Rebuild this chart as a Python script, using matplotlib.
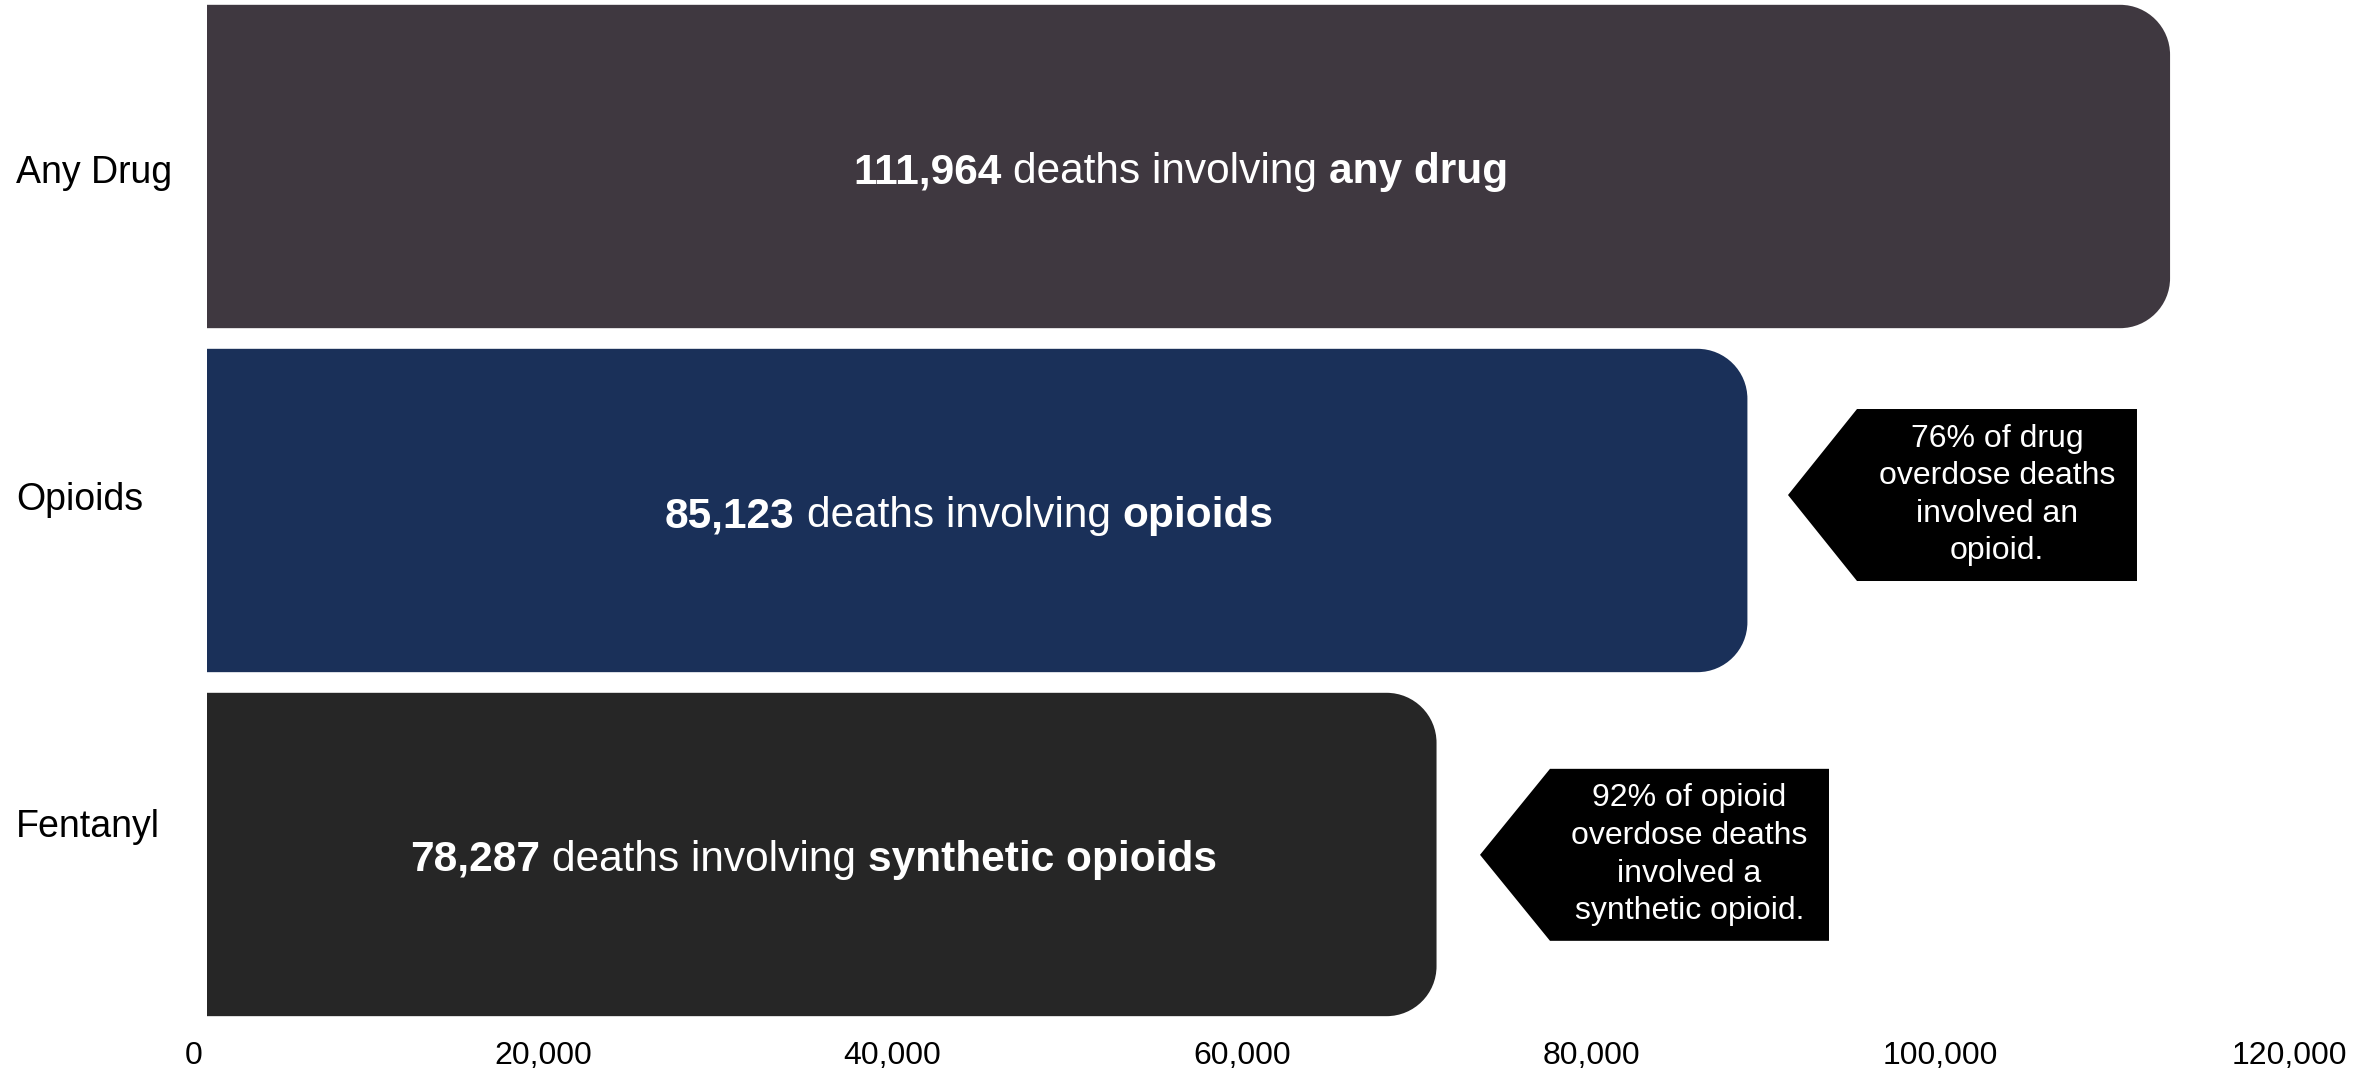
import matplotlib
matplotlib.use('Agg')
import matplotlib.pyplot as plt
from matplotlib.path import Path
from matplotlib.patches import PathPatch, Polygon
from matplotlib.transforms import ScaledTranslation, blended_transform_factory

# ---- data ----
categories = ['Any Drug', 'Opioids', 'Fentanyl']
bar_values = [112400, 88200, 70400]
label_counts = ['111,964', '85,123', '78,287']
label_middle = 'deaths involving'
label_subjects = ['any drug', 'opioids', 'synthetic opioids']
bar_colors = ['#3f3840', '#1a3059', '#262626']
x_ticks = [0, 20000, 40000, 60000, 80000, 100000, 120000]
x_tick_labels = ['0', '20,000', '40,000', '60,000', '80,000', '100,000', '120,000']
callout_texts = ['76% of drug\noverdose deaths\ninvolved an\nopioid.',
                 '92% of opioid\noverdose deaths\ninvolved a\nsynthetic opioid.']

# ---- layout ----
W, H, DPI = 2376, 1076, 100
FONT = ['Liberation Sans', 'DejaVu Sans']
plt.rcParams['font.family'] = FONT

fig = plt.figure(figsize=(W / DPI, H / DPI), dpi=DPI)
ax = fig.add_axes([207 / W, (H - 1027) / H, 2095.8 / W, 1027 / H])
ax.set_xlim(0, 120000)
ax.set_ylim(2.5015, -0.484)
for s in ax.spines.values():
    s.set_visible(False)

ypos = list(range(len(categories)))
bars = ax.barh(ypos, bar_values, height=0.94, color=bar_colors)

# rounded right corners
px_per_x = ax.transData.transform((1, 0))[0] - ax.transData.transform((0, 0))[0]
px_per_y = abs(ax.transData.transform((0, 1))[1] - ax.transData.transform((0, 0))[1])
radius_px = 50
k = 0.5523
for rect, col in zip(bars.patches, bar_colors):
    x0, y0 = rect.get_x(), rect.get_y()
    w, h = rect.get_width(), rect.get_height()
    x1, y1 = x0 + w, y0 + h
    rx, ry = radius_px / px_per_x, radius_px / px_per_y
    verts = [(x0, y0), (x1 - rx, y0),
             (x1 - rx + k * rx, y0), (x1, y0 + ry - k * ry), (x1, y0 + ry),
             (x1, y1 - ry),
             (x1, y1 - ry + k * ry), (x1 - rx + k * rx, y1), (x1 - rx, y1),
             (x0, y1), (x0, y0)]
    codes = [Path.MOVETO, Path.LINETO,
             Path.CURVE4, Path.CURVE4, Path.CURVE4,
             Path.LINETO,
             Path.CURVE4, Path.CURVE4, Path.CURVE4,
             Path.LINETO, Path.CLOSEPOLY]
    ax.add_patch(PathPatch(Path(verts, codes), facecolor=col, edgecolor='none', zorder=2))
    rect.remove()

# bar labels with mixed weights, centred in each bar
renderer = fig.canvas.get_renderer()
fs_bar = 30.5
gap_px = 0.278 * fs_bar * DPI / 72
shift_px = -8
for i, (v, cnt, subj) in enumerate(zip(bar_values, label_counts, label_subjects)):
    yb = i + 0.048
    pieces = [(cnt, 'bold'), (label_middle, 'normal'), (subj, 'bold')]
    texts = [ax.text(0, yb, s, color='white', fontsize=fs_bar, fontweight=wt,
                     va='baseline', ha='left', zorder=3) for s, wt in pieces]
    widths = [t.get_window_extent(renderer).width for t in texts]
    total = sum(widths) + gap_px * (len(widths) - 1)
    cx = ax.transData.transform((v / 2, yb))
    xs = cx[0] - total / 2 + shift_px
    inv = ax.transData.inverted()
    for t, wd in zip(texts, widths):
        t.set_x(inv.transform((xs, cx[1]))[0])
        xs += wd + gap_px

# category labels
lab_tr = blended_transform_factory(fig.transFigure, ax.transData)
for i, c in enumerate(categories):
    ax.text(16 / W, 1 + (i - 1) * 0.9506, c, transform=lab_tr, fontsize=27,
            va='baseline', ha='left', color='black')

# callouts (arrow-shaped boxes)
callouts = [  # (tip_x, left_x, right_x, centre_y)
    (90524, 94475, 110506, 0.955),
    (72890, 76896, 92871, 2.001),
]
half_h = 0.25
for (tip, lx, rxx, cy), txt in zip(callouts, callout_texts):
    poly = Polygon([(tip, cy), (lx, cy - half_h), (rxx, cy - half_h),
                    (rxx, cy + half_h), (lx, cy + half_h)], closed=True,
                   facecolor='black', edgecolor='none', zorder=2)
    ax.add_patch(poly)
    ax.text((lx + rxx) / 2, cy, txt, color='white', fontsize=23, ha='center',
            va='center', multialignment='center', linespacing=1.33, zorder=3)

# axes ticks
ax.set_yticks([])
ax.set_xticks(x_ticks)
ax.set_xticklabels(x_tick_labels)
ax.tick_params(axis='x', length=0, pad=10, labelsize=23, labelcolor='black')
off = ScaledTranslation(-13 / DPI, 0, fig.dpi_scale_trans)
for lab in ax.get_xticklabels():
    lab.set_transform(lab.get_transform() + off)

fig.savefig('out.png', dpi=DPI, facecolor='white')
